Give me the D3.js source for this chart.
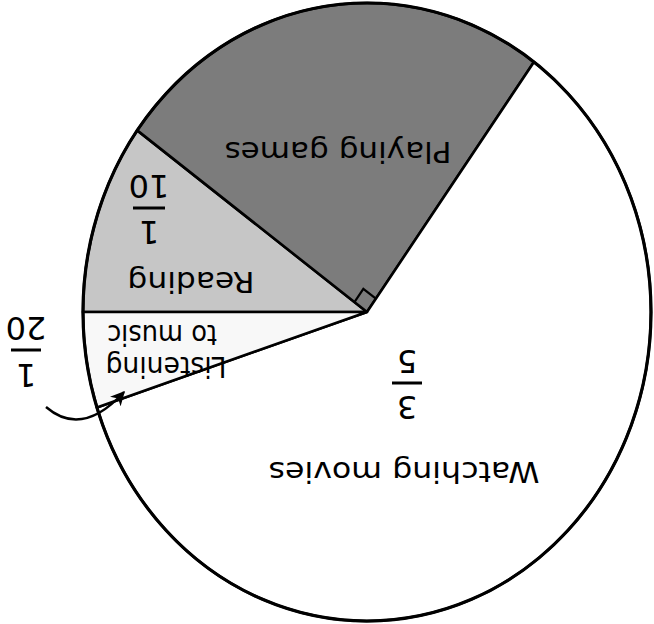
<!DOCTYPE html>
<html>
<head>
<meta charset="utf-8">
<script src="https://cdn.jsdelivr.net/npm/d3@7/dist/d3.min.js"></script>
<style>
html,body{margin:0;padding:0;background:#fff;}
svg{display:block;}
</style>
</head>
<body>
<svg id="chart" width="654" height="624"></svg>
<script>
// ---- data ----
const categories = ["Reading", "Playing games", "Watching movies", "Listening to music"];
const values = [1/10, 1/4, 3/5, 1/20];
const labelLines = [["Reading"], ["Playing games"], ["Watching movies"], ["Listening", "to music"]];
const numerators = ["1", null, "3", "1"];
const denominators = ["10", null, "5", "20"];
const fills = ["url(#gReading)", "#7c7c7c", "#ffffff", "url(#gListen)"];

// ---- layout ----
const W = 654, H = 624;
const cx = 367, cy = 312, rx = 284, ry = 309;
const svg = d3.select("#chart");

const defs = svg.append("defs");
const gr = defs.append("linearGradient").attr("id", "gReading")
  .attr("gradientUnits", "userSpaceOnUse").attr("x1", 90).attr("y1", 250).attr("x2", 360).attr("y2", 300);
gr.append("stop").attr("offset", 0).attr("stop-color", "#c6c6c6");
gr.append("stop").attr("offset", 0.6).attr("stop-color", "#d0d0d0");
gr.append("stop").attr("offset", 1).attr("stop-color", "#e2e2e2");
const gl = defs.append("linearGradient").attr("id", "gListen")
  .attr("gradientUnits", "userSpaceOnUse").attr("x1", 85).attr("y1", 360).attr("x2", 365).attr("y2", 330);
gl.append("stop").attr("offset", 0).attr("stop-color", "#f8f8f8");
gl.append("stop").attr("offset", 0.15).attr("stop-color", "#d2d2d2");
gl.append("stop").attr("offset", 0.3).attr("stop-color", "#d6d6d6");
gl.append("stop").attr("offset", 0.55).attr("stop-color", "#f6f6f6");
gl.append("stop").attr("offset", 0.85).attr("stop-color", "#d4d4d4");
gl.append("stop").attr("offset", 1).attr("stop-color", "#bdbdbd");
defs.append("marker").attr("id", "arrow").attr("viewBox", "0 0 10 10")
  .attr("refX", 9).attr("refY", 5).attr("markerWidth", 6).attr("markerHeight", 6)
  .attr("markerUnits", "strokeWidth").attr("orient", "auto")
  .append("path").attr("d", "M0,0 L10,5 L0,10 L3,5 Z").attr("fill", "#000");

const pie = d3.pie().sort(null).startAngle(-Math.PI / 2).endAngle(3 * Math.PI / 2);
const arcs = pie(values);
const arc = d3.arc().innerRadius(0).outerRadius(ry);

const g = svg.append("g").attr("transform", `translate(${cx},${cy}) scale(${rx / ry},1)`);
g.selectAll("path.slice").data(arcs).join("path")
  .attr("class", "slice")
  .attr("d", arc)
  .attr("fill", (d, i) => fills[i])
  .attr("stroke", "#000")
  .attr("stroke-width", 2.6)
  .attr("stroke-linejoin", "round")
  .attr("vector-effect", "non-scaling-stroke");
g.append("ellipse").attr("rx", ry).attr("ry", ry)
  .attr("fill", "none").attr("stroke", "#000").attr("stroke-width", 3.2)
  .attr("vector-effect", "non-scaling-stroke");

// right angle marker between Playing games boundaries
function dir(a) {
  const x = Math.sin(a) * rx, y = -Math.cos(a) * ry;
  const L = Math.hypot(x, y);
  return [x / L, y / L];
}
const ga = arcs[1];
const u1 = dir(ga.startAngle), u2 = dir(ga.endAngle);
const s = 16;
svg.append("path")
  .attr("d", `M${cx + s * u1[0]},${cy + s * u1[1]} L${cx + s * (u1[0] + u2[0])},${cy + s * (u1[1] + u2[1])} L${cx + s * u2[0]},${cy + s * u2[1]}`)
  .attr("fill", "none").attr("stroke", "#000").attr("stroke-width", 2.2);

// ---- labels (page shown rotated 180°) ----
const font = "DejaVu Sans, sans-serif";
const labelPos = [
  [{x: 191, y: 272, w: 127}],
  [{x: 338, y: 142, w: 227}],
  [{x: 404, y: 462, w: 271}],
  [{x: 166, y: 357, w: 121}, {x: 162, y: 325, w: 110}]
];
labelLines.forEach((lines, i) => {
  lines.forEach((t, j) => {
    const p = labelPos[i][j];
    svg.append("text")
      .attr("transform", `translate(${p.x},${p.y}) rotate(180)`)
      .attr("text-anchor", "middle")
      .attr("font-family", font).attr("font-size", 28)
      .attr("textLength", p.w).attr("lengthAdjust", "spacingAndGlyphs")
      .attr("fill", "#000")
      .text(t);
  });
});

// fractions: [centerX, denominator top, bar y, numerator top, bar half width]
const fracPos = [
  {x: 149, den: 175, bar: 208, num: 221, hw: 16},
  null,
  {x: 407, den: 350, bar: 383, num: 396, hw: 15},
  {x: 26, den: 317, bar: 350, num: 364, hw: 15}
];
numerators.forEach((n, i) => {
  const p = fracPos[i];
  if (!n) return;
  svg.append("text")
    .attr("transform", `translate(${p.x},${p.num}) rotate(180)`)
    .attr("text-anchor", "middle").attr("font-family", font).attr("font-size", 32)
    .text(n);
  svg.append("text")
    .attr("transform", `translate(${p.x},${p.den}) rotate(180)`)
    .attr("text-anchor", "middle").attr("font-family", font).attr("font-size", 32)
    .text(denominators[i]);
  svg.append("line")
    .attr("x1", p.x - p.hw).attr("x2", p.x + p.hw)
    .attr("y1", p.bar).attr("y2", p.bar)
    .attr("stroke", "#000").attr("stroke-width", 3);
});

// arrow pointing to the Listening slice
svg.append("path")
  .attr("d", "M46,407 Q82,438 124,392")
  .attr("fill", "none").attr("stroke", "#000").attr("stroke-width", 2.4)
  .attr("marker-end", "url(#arrow)");
</script>
</body>
</html>
